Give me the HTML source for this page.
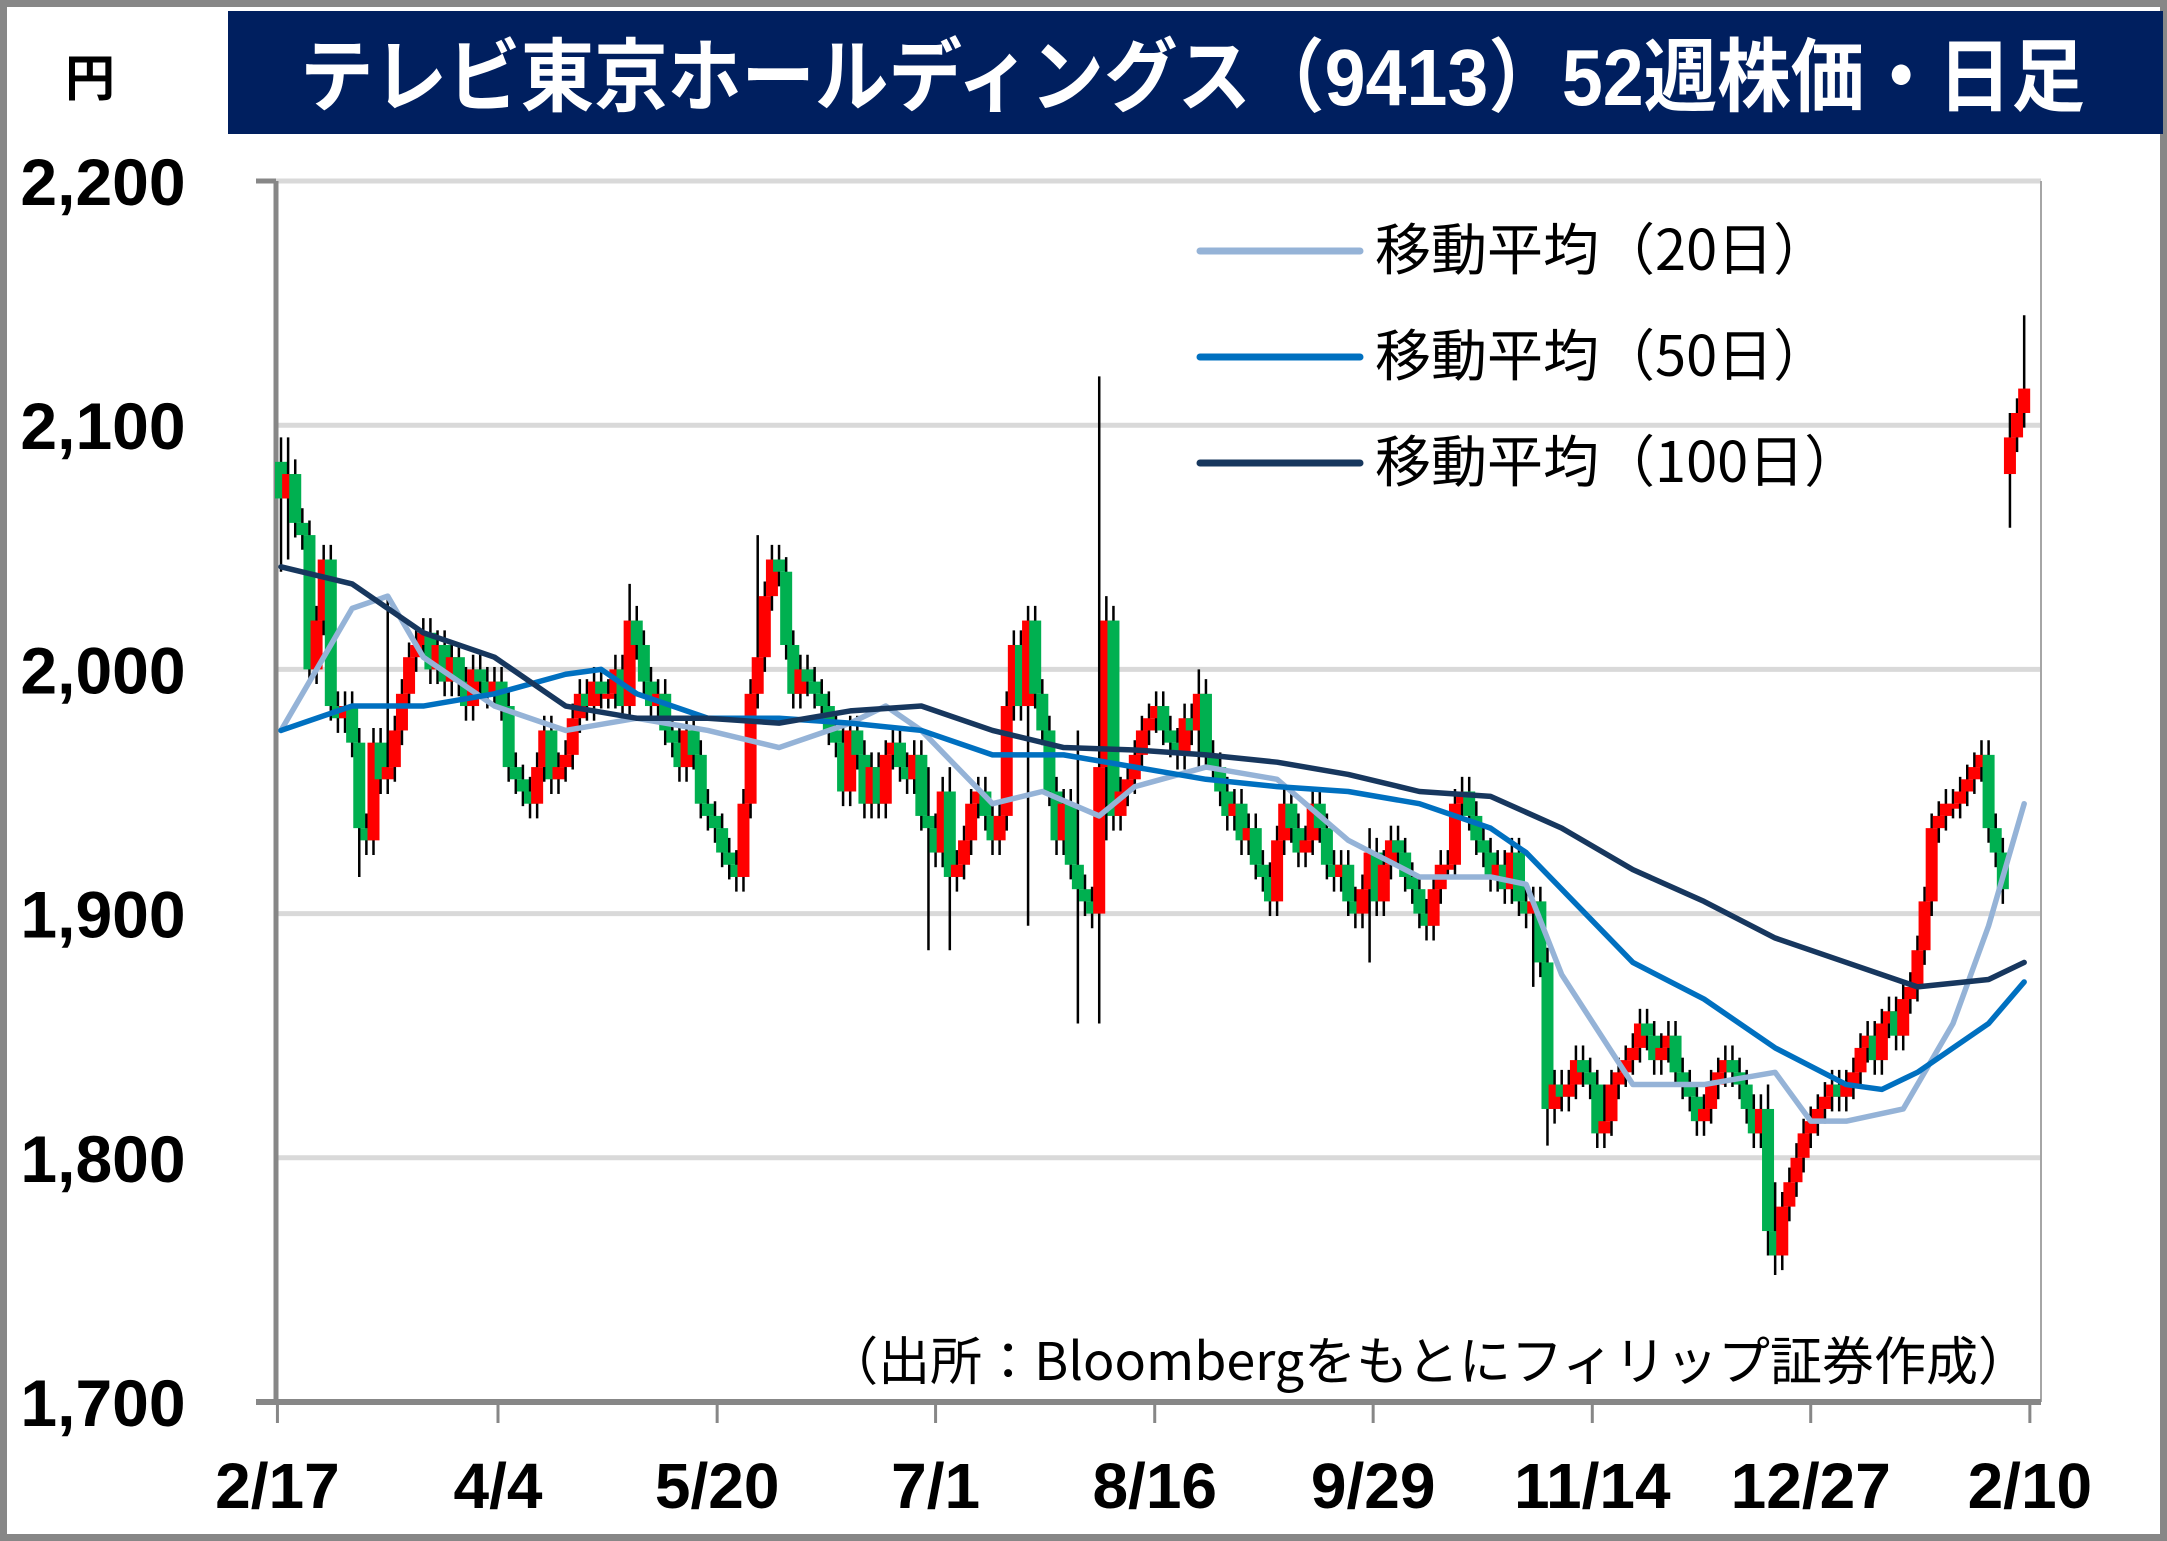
<!DOCTYPE html>
<html><head><meta charset="utf-8"><style>
html,body{margin:0;padding:0;background:#fff}
svg{display:block}
</style></head><body>
<svg id="chart" width="2167" height="1541" viewBox="0 0 2167 1541" xmlns="http://www.w3.org/2000/svg" font-family="'Liberation Sans','Noto Sans CJK JP',sans-serif">
<rect x="3.5" y="3.5" width="2160" height="1534" fill="#fff" stroke="#878787" stroke-width="7"/>
<rect x="228" y="11" width="1935" height="123" fill="#001f5f"/>
<text x="300" y="105" font-size="80" font-weight="bold" fill="#fff" textLength="1785" lengthAdjust="spacingAndGlyphs">テレビ東京ホールディングス（9413）52週株価・日足</text>
<text x="90" y="96" font-size="50" font-weight="bold" text-anchor="middle" font-family="'Noto Sans CJK JP',sans-serif">円</text>
<g id="grid"></g>
<g id="yLabels"></g>
<g id="xAxis"></g>
<g id="candles"></g>
<g id="mas"></g>
<g>
 <g><line x1="1200" y1="251" x2="1360" y2="251" stroke="#95b3d7" stroke-width="7" stroke-linecap="round"/><text x="1375" y="270" font-size="56" font-family="'Noto Sans CJK JP',sans-serif">移動平均（20日）</text></g>
 <g><line x1="1200" y1="357" x2="1360" y2="357" stroke="#0070c0" stroke-width="7" stroke-linecap="round"/><text x="1375" y="376" font-size="56" font-family="'Noto Sans CJK JP',sans-serif">移動平均（50日）</text></g>
 <g><line x1="1200" y1="463" x2="1360" y2="463" stroke="#17375e" stroke-width="7" stroke-linecap="round"/><text x="1375" y="482" font-size="56" font-family="'Noto Sans CJK JP',sans-serif">移動平均（100日）</text></g>
</g>
<text x="2030" y="1380" font-size="52" text-anchor="end" font-family="'Noto Sans CJK JP',sans-serif">（出所：Bloombergをもとにフィリップ証券作成）</text>
</svg>
<script>
const closes = [2070,2080,2060,2055,2000,2020,2045,1985,1980,1985,1970,1935,1930,1970,1955,1960,1975,1990,2005,2010,
2015,2000,2010,1995,2005,1995,1985,2000,1995,1990,1995,1985,1960,1955,1950,1945,1960,1975,1955,1960,
1965,1980,1990,1985,1995,1990,1990,2000,1985,2020,2010,1995,1985,1990,1975,1970,1960,1975,1965,1945,
1940,1935,1925,1920,1915,1945,1990,2005,2030,2045,2040,2010,1990,2000,1995,1990,1985,1975,1970,1950,
1975,1965,1945,1960,1945,1965,1970,1960,1955,1965,1940,1935,1925,1950,1915,1920,1930,1945,1950,1940,
1930,1940,1985,2010,1985,2020,1990,1975,1950,1930,1945,1920,1910,1905,1900,1960,2020,1940,1950,1955,
1965,1975,1980,1985,1975,1970,1965,1980,1975,1990,1965,1960,1950,1940,1945,1930,1935,1920,1915,1905,
1930,1945,1935,1925,1930,1945,1935,1920,1915,1920,1905,1900,1910,1925,1905,1920,1930,1925,1915,1910,
1900,1895,1910,1920,1920,1945,1950,1940,1930,1925,1915,1920,1910,1925,1905,1900,1905,1880,1820,1830,
1825,1830,1840,1835,1830,1810,1815,1830,1835,1840,1845,1855,1850,1840,1845,1850,1835,1830,1825,1815,
1820,1830,1835,1840,1835,1830,1820,1810,1820,1770,1760,1780,1790,1800,1810,1815,1820,1825,1830,1825,
1830,1835,1845,1850,1840,1855,1860,1850,1865,1870,1885,1905,1935,1940,1945,1945,1950,1955,1960,1965,
1935,1925,1910,2095,2105,2115];
const firstOpen = 2085;
const openOverrides = {243:2080};
const longWicks = {0:[2095,2040],1:[2095,2045],11:[1945,1915],15:[2030,1950],49:[2035,2000],67:[2055,1990],
 91:[1960,1885],94:[1960,1885],105:[2025,1895],112:[1975,1855],115:[2120,1855],116:[2030,1930],129:[2000,1960],
 153:[1935,1880],176:[1910,1870],178:[1885,1805],186:[1830,1805],209:[1830,1760],210:[1790,1752],243:[2105,2058],245:[2145,2105]};
const ma20 = [[0,1975],[10,2025],[15,2030],[20,2005],[30,1985],[40,1975],[50,1980],[60,1975],[70,1968],[80,1978],[85,1985],[90,1975],[100,1945],[107,1950],[115,1940],[120,1952],[130,1960],[140,1955],[150,1930],[160,1915],[170,1915],[175,1912],[180,1875],[190,1830],[200,1830],[210,1835],[215,1815],[220,1815],[228,1820],[235,1855],[240,1895],[245,1945]];
const ma50 = [[0,1975],[10,1985],[20,1985],[30,1990],[40,1998],[45,2000],[50,1990],[60,1980],[70,1980],[80,1978],[90,1975],[100,1965],[110,1965],[120,1960],[130,1955],[140,1952],[150,1950],[160,1945],[170,1935],[175,1925],[180,1910],[190,1880],[200,1865],[210,1845],[220,1830],[225,1828],[230,1835],[240,1855],[245,1872]];
const ma100 = [[0,2042],[10,2035],[20,2015],[30,2005],[40,1985],[50,1980],[60,1980],[70,1978],[80,1983],[90,1985],[100,1975],[110,1968],[120,1967],[130,1965],[140,1962],[150,1957],[160,1950],[170,1948],[180,1935],[190,1918],[200,1905],[210,1890],[220,1880],[230,1870],[240,1873],[245,1880]];
const yTicks = [1700,1800,1900,2000,2100,2200];
const yTickLabels = ["1,700","1,800","1,900","2,000","2,100","2,200"];
const xTickIdx = [-0.5,30.5,61.3,92,122.8,153.5,184.3,215,245.8];
const xTickLabels = ["2/17","4/4","5/20","7/1","8/16","9/29","11/14","12/27","2/10"];

const NS="http://www.w3.org/2000/svg";
const y = v => 1402 - (v-1700)*(1402-181)/500;
const x = i => 281 + i*7.115;
function mk(tag, attrs, parent){const e=document.createElementNS(NS,tag);for(const k in attrs)e.setAttribute(k,attrs[k]);parent.appendChild(e);return e;}
const grid=document.getElementById('grid'), yl=document.getElementById('yLabels'), xa=document.getElementById('xAxis');
yTicks.forEach((v,k)=>{
  if(v>1700){const g=mk('line',{x1:276,x2:2041,y1:y(v),y2:y(v),stroke:'#d9d9d9','stroke-width':5},grid);
  
  }
  const t=mk('text',{x:103,y:y(v)+24,'font-size':66,'font-weight':'bold','text-anchor':'middle'},yl);
  t.textContent=yTickLabels[k];
  
  
});
mk('line',{x1:2041,x2:2041,y1:181,y2:1402,stroke:'#a6a6a6','stroke-width':2},grid);
const ax=mk('line',{x1:276,x2:276,y1:181,y2:1404,stroke:'#878787','stroke-width':5},xa);


const bx=mk('line',{x1:256,x2:2041,y1:1402,y2:1402,stroke:'#878787','stroke-width':6},xa);


mk('line',{x1:256,x2:276,y1:181,y2:181,stroke:'#878787','stroke-width':5},xa);
xTickIdx.forEach((ti,k)=>{
  const xx=x(ti);
  mk('line',{x1:xx,x2:xx,y1:1402,y2:1423,stroke:'#878787','stroke-width':3},xa);
  const t=mk('text',{x:xx,y:1508,'font-size':64,'font-weight':'bold','text-anchor':'middle'},xa);
  t.textContent=xTickLabels[k];
  
  
});
const cg=document.getElementById('candles');
closes.forEach((c,i)=>{
  let o = i===0?firstOpen:closes[i-1];
  if(openOverrides[i]!==undefined) o=openOverrides[i];
  let hi=Math.max(o,c)+6, lo=Math.min(o,c)-6;
  if(longWicks[i]){hi=Math.max(hi,longWicks[i][0]);lo=Math.min(lo,longWicks[i][1]);}
  const g=mk('g',{},cg);
  
  
  mk('line',{x1:x(i),x2:x(i),y1:y(hi),y2:y(lo),stroke:'#000','stroke-width':2.5},g);
  const top=y(Math.max(o,c)), bot=y(Math.min(o,c));
  mk('rect',{x:x(i)-6,y:top,width:12,height:Math.max(bot-top,5),fill:c>=o?'#ff0000':'#00b050'},g);
});
const mg=document.getElementById('mas');
[[ma20,'#95b3d7','ma20-line'],[ma50,'#0070c0','ma50-line'],[ma100,'#17375e','ma100-line']].forEach(([arr,col,nm])=>{
  const p=mk('polyline',{points:arr.map(([i,v])=>x(i)+','+y(v)).join(' '),fill:'none',stroke:col,'stroke-width':5.5,'stroke-linejoin':'round','stroke-linecap':'round'},mg);
  
  
});
</script>
</body></html>
